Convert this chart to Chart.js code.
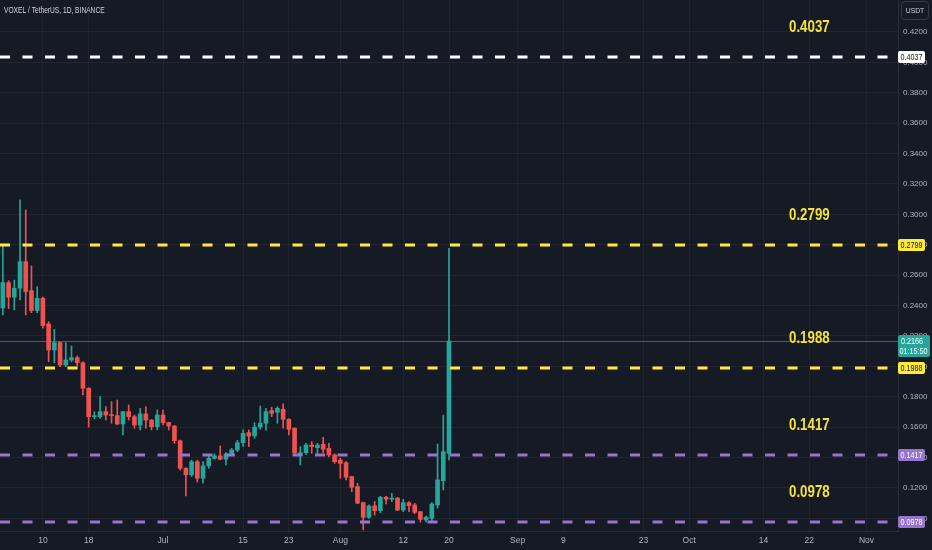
<!DOCTYPE html>
<html>
<head>
<meta charset="utf-8">
<script src="https://cdn.jsdelivr.net/npm/chart.js@4.4.1/dist/chart.umd.min.js"></script>
<style>
    html, body { margin: 0; padding: 0; background: #161a25; }
    #wrap { width: 932px; height: 550px; position: relative; }
</style>
</head>
<body>
<div id="wrap"><canvas id="chart"></canvas></div>
<script>
// Daily candles, VOXEL/USDT, first one is Jun 3
const firstDay = Date.UTC(2024, 5, 3);
const dayCount = 157;

const opens = [
    0.2384, 0.2551, 0.2455, 0.2514, 0.2689, 0.2498, 0.2367, 0.2448, 0.2279, 0.2108,
    0.2156, 0.2009, 0.2042, 0.2057, 0.2024, 0.1856, 0.1669, 0.1669, 0.1702, 0.1680,
    0.1676, 0.1621, 0.1702, 0.1669, 0.1614, 0.1687, 0.1647, 0.1603, 0.1680, 0.1630,
    0.1608, 0.1511, 0.1330, 0.1286, 0.1373, 0.1264, 0.1345, 0.1395, 0.1411, 0.1389,
    0.1424, 0.1450, 0.1498, 0.1564, 0.1542, 0.1600, 0.1626, 0.1709, 0.1698, 0.1718,
    0.1652, 0.1593, 0.1418, 0.1432, 0.1483, 0.1465, 0.1487, 0.1461, 0.1417, 0.1384,
    0.1366, 0.1275, 0.1209, 0.1104, 0.1007, 0.1082, 0.1051, 0.1139, 0.1126, 0.1133,
    0.1055, 0.1103, 0.1088, 0.1044, 0.0989, 0.1000, 0.1088, 0.1248, 0.1428
];
const highs = [
    0.2799, 0.2564, 0.2568, 0.3095, 0.3029, 0.2661, 0.2524, 0.2455, 0.2294, 0.2244,
    0.2160, 0.2156, 0.2134, 0.2068, 0.2030, 0.1860, 0.1702, 0.1801, 0.1735, 0.1768,
    0.1779, 0.1705, 0.1746, 0.1680, 0.1724, 0.1735, 0.1650, 0.1713, 0.1713, 0.1633,
    0.1610, 0.1515, 0.1333, 0.1384, 0.1384, 0.1373, 0.1413, 0.1424, 0.1476, 0.1433,
    0.1461, 0.1514, 0.1582, 0.1582, 0.1630, 0.1739, 0.1724, 0.1731, 0.1735, 0.1753,
    0.1655, 0.1596, 0.1472, 0.1494, 0.1505, 0.1494, 0.1533, 0.1494, 0.1424, 0.1395,
    0.1373, 0.1278, 0.1231, 0.1107, 0.1089, 0.1111, 0.1145, 0.1145, 0.1164, 0.1139,
    0.1126, 0.1110, 0.1099, 0.1047, 0.1015, 0.1104, 0.1489, 0.1680, 0.2777
];
const lows = [
    0.2338, 0.2380, 0.2371, 0.2437, 0.2338, 0.2353, 0.2353, 0.2251, 0.2031, 0.2024,
    0.1998, 0.1998, 0.2031, 0.2003, 0.1812, 0.1601, 0.1655, 0.1659, 0.1647, 0.1626,
    0.1615, 0.1549, 0.1647, 0.1593, 0.1582, 0.1593, 0.1582, 0.1582, 0.1614, 0.1582,
    0.1494, 0.1318, 0.1147, 0.1275, 0.1239, 0.1231, 0.1330, 0.1390, 0.1385, 0.1351,
    0.1411, 0.1439, 0.1474, 0.1472, 0.1527, 0.1586, 0.1580, 0.1669, 0.1626, 0.1593,
    0.1549, 0.1416, 0.1351, 0.1420, 0.1428, 0.1420, 0.1432, 0.1405, 0.1362, 0.1264,
    0.1253, 0.1176, 0.1096, 0.0924, 0.1000, 0.1022, 0.1037, 0.1095, 0.1111, 0.1051,
    0.1044, 0.1044, 0.1031, 0.0976, 0.0976, 0.0978, 0.1067, 0.1187, 0.1384
];
const closes = [
    0.2551, 0.2455, 0.2514, 0.2689, 0.2492, 0.2367, 0.2448, 0.2268, 0.2108, 0.2156,
    0.2009, 0.2042, 0.2057, 0.2024, 0.1856, 0.1669, 0.1675, 0.1702, 0.1680, 0.1676,
    0.1621, 0.1702, 0.1669, 0.1614, 0.1687, 0.1647, 0.1603, 0.1680, 0.1630, 0.1608,
    0.1511, 0.1330, 0.1286, 0.1373, 0.1264, 0.1345, 0.1395, 0.1411, 0.1389, 0.1424,
    0.1450, 0.1498, 0.1560, 0.1542, 0.1600, 0.1626, 0.1702, 0.1691, 0.1724, 0.1652,
    0.1586, 0.1432, 0.1432, 0.1483, 0.1472, 0.1483, 0.1455, 0.1417, 0.1373, 0.1362,
    0.1270, 0.1205, 0.1100, 0.1007, 0.1082, 0.1051, 0.1139, 0.1126, 0.1133, 0.1055,
    0.1103, 0.1084, 0.1040, 0.0994, 0.1007, 0.1095, 0.1253, 0.1439, 0.2166
];

// horizontal levels drawn on the chart
const levels = [0.4037, 0.2799, 0.1988, 0.1417, 0.0978];
const levelColors = ['#ffffff', '#ffeb3b', '#ffeb3b', '#9575cd', '#9575cd'];
const levelTextColors = ['#131722', '#131722', '#131722', '#ffffff', '#ffffff'];
const lastPrice = 0.2166;
const countdown = '01:15:50';

// time axis labels
const tickDates = ['06-10', '06-18', '07-01', '07-15', '07-23', '08-01', '08-12', '08-20',
                   '09-01', '09-09', '09-23', '10-01', '10-14', '10-22', '11-01'];
const tickLabels = ['10', '18', 'Jul', '15', '23', 'Aug', '12', '20',
                    'Sep', '9', '23', 'Oct', '14', '22', 'Nov'];
const levelTextDate = '10-22';

const yMin = 0.0917;
const yMax = 0.4410;

const days = [];
for (let i = 0; i < dayCount; i++) {
    const d = new Date(firstDay + i * 86400000);
    days.push(String(d.getUTCMonth() + 1).padStart(2, '0') + '-' + String(d.getUTCDate()).padStart(2, '0'));
}

const UP = '#26a69a';
const DOWN = '#ef5350';
const candleColors = opens.map((o, i) => closes[i] >= o ? UP : DOWN);
const bodies = opens.map((o, i) => [o, closes[i]]);
const wicks = lows.map((l, i) => [l, highs[i]]);

const FONT = '"Liberation Sans", Arial, sans-serif';
Chart.defaults.font.family = FONT;

function roundBox(ctx, x, y, w, h, r) {
    ctx.beginPath();
    ctx.moveTo(x + r, y);
    ctx.lineTo(x + w - r, y);
    ctx.quadraticCurveTo(x + w, y, x + w, y + r);
    ctx.lineTo(x + w, y + h - r);
    ctx.quadraticCurveTo(x + w, y + h, x + w - r, y + h);
    ctx.lineTo(x + r, y + h);
    ctx.quadraticCurveTo(x, y + h, x, y + h - r);
    ctx.lineTo(x, y + r);
    ctx.quadraticCurveTo(x, y, x + r, y);
    ctx.closePath();
}

// no narrow font installed, so squeeze the text horizontally
function narrowText(ctx, text, x, y, squeeze) {
    ctx.save();
    ctx.translate(x, y);
    ctx.scale(squeeze, 1);
    ctx.fillText(text, 0, 0);
    ctx.restore();
}

const overlay = {
    id: 'overlay',
    beforeDraw(chart) {
        const ctx = chart.ctx;
        ctx.save();
        ctx.fillStyle = '#161a25';
        ctx.fillRect(0, 0, chart.width, chart.height);
        ctx.restore();
    },
    beforeDatasetsDraw(chart) {
        // last price line
        const ctx = chart.ctx;
        const area = chart.chartArea;
        const y = Math.round(chart.scales.y.getPixelForValue(lastPrice)) + 0.5;
        ctx.save();
        ctx.strokeStyle = 'rgba(160, 175, 185, 0.45)';
        ctx.lineWidth = 1;
        ctx.beginPath();
        ctx.moveTo(area.left, y);
        ctx.lineTo(area.right, y);
        ctx.stroke();
        ctx.restore();
    },
    afterDatasetsDraw(chart) {
        const ctx = chart.ctx;
        const area = chart.chartArea;
        const ys = chart.scales.y;
        const xs = chart.scales.x;
        const textX = xs.getPixelForValue(days.indexOf(levelTextDate));
        ctx.save();
        levels.forEach((v, i) => {
            const y = Math.round(ys.getPixelForValue(v));
            ctx.strokeStyle = levelColors[i];
            ctx.lineWidth = 3;
            ctx.setLineDash([10, 12.5]);
            ctx.beginPath();
            ctx.moveTo(area.left, y);
            ctx.lineTo(area.right, y);
            ctx.stroke();

            ctx.setLineDash([]);
            ctx.fillStyle = '#f2e33a';
            ctx.font = 'bold 16px ' + FONT;
            ctx.textAlign = 'center';
            ctx.textBaseline = 'middle';
            narrowText(ctx, v.toFixed(4), textX, y - 29, 0.83);
        });
        ctx.restore();
    },
    afterDraw(chart) {
        const ctx = chart.ctx;
        const ys = chart.scales.y;
        const left = ys.left;
        ctx.save();
        ctx.font = '9px ' + FONT;
        ctx.textAlign = 'center';
        ctx.textBaseline = 'middle';

        // level tags on the price scale
        levels.forEach((v, i) => {
            const y = Math.round(ys.getPixelForValue(v));
            ctx.fillStyle = levelColors[i];
            roundBox(ctx, left, y - 6, 27, 12, 2);
            ctx.fill();
            ctx.fillStyle = levelTextColors[i];
            narrowText(ctx, v.toFixed(4), left + 13.5, y + 0.5, 0.8);
        });

        // last price tag with countdown
        const py = Math.round(ys.getPixelForValue(lastPrice));
        ctx.fillStyle = UP;
        roundBox(ctx, left, py - 6, 32, 22, 2);
        ctx.fill();
        ctx.fillStyle = '#ffffff';
        narrowText(ctx, lastPrice.toFixed(4), left + 14, py + 0.5, 0.8);
        narrowText(ctx, countdown, left + 15.5, py + 10.5, 0.8);

        // currency box
        ctx.strokeStyle = '#363a45';
        ctx.lineWidth = 1;
        roundBox(ctx, left + 3.5, 1.5, 27, 18, 3);
        ctx.fillStyle = '#161a25';
        ctx.fill();
        ctx.stroke();
        ctx.fillStyle = '#d1d4dc';
        ctx.font = '8px ' + FONT;
        narrowText(ctx, 'USDT', left + 17, 11, 0.85);

        // symbol legend
        ctx.textAlign = 'left';
        ctx.font = '8.5px ' + FONT;
        ctx.fillStyle = '#d1d4dc';
        narrowText(ctx, 'VOXEL / TetherUS, 1D, BINANCE', 4, 11, 0.78);
        ctx.restore();
    }
};

new Chart(document.getElementById('chart'), {
    type: 'bar',
    data: {
        labels: days,
        datasets: [
            {
                label: 'body',
                data: bodies,
                backgroundColor: candleColors,
                borderWidth: 0,
                barThickness: 4,
                minBarLength: 1,
                grouped: false,
                order: 0
            },
            {
                label: 'wick',
                data: wicks,
                backgroundColor: candleColors,
                borderWidth: 0,
                barThickness: 1,
                grouped: false,
                order: 1
            }
        ]
    },
    options: {
        responsive: true,
        maintainAspectRatio: false,
        animation: false,
        layout: { padding: 0 },
        plugins: {
            legend: { display: false },
            tooltip: { enabled: false }
        },
        scales: {
            x: {
                type: 'category',
                offset: true,
                grid: {
                    offset: false,
                    color: 'rgba(255, 255, 255, 0.045)',
                    drawTicks: false
                },
                border: { color: '#2a2e39' },
                ticks: {
                    autoSkip: false,
                    maxRotation: 0,
                    padding: 5,
                    color: '#b2b5be',
                    font: { size: 8.5 },
                    callback: function(value) {
                        const k = tickDates.indexOf(this.getLabelForValue(value));
                        return k < 0 ? null : tickLabels[k];
                    }
                },
                afterFit: function(scale) {
                    scale.height = 19;
                    scale.paddingLeft = 0;
                    scale.paddingRight = 0;
                }
            },
            y: {
                position: 'right',
                min: yMin,
                max: yMax,
                grid: {
                    color: 'rgba(255, 255, 255, 0.05)',
                    drawTicks: false
                },
                border: { color: '#2a2e39' },
                ticks: {
                    stepSize: 0.02,
                    padding: 5,
                    color: '#b2b5be',
                    font: { size: 8 },
                    callback: function(value) {
                        return value > 0.43 ? '' : value.toFixed(4);
                    }
                },
                afterBuildTicks: function(scale) {
                    scale.ticks = scale.ticks.filter(t => Math.abs(t.value * 50 - Math.round(t.value * 50)) < 1e-6);
                },
                afterFit: function(scale) {
                    scale.width = 34;
                    scale.paddingTop = 0;
                    scale.paddingBottom = 0;
                }
            }
        }
    },
    plugins: [overlay]
});
</script>
</body>
</html>
